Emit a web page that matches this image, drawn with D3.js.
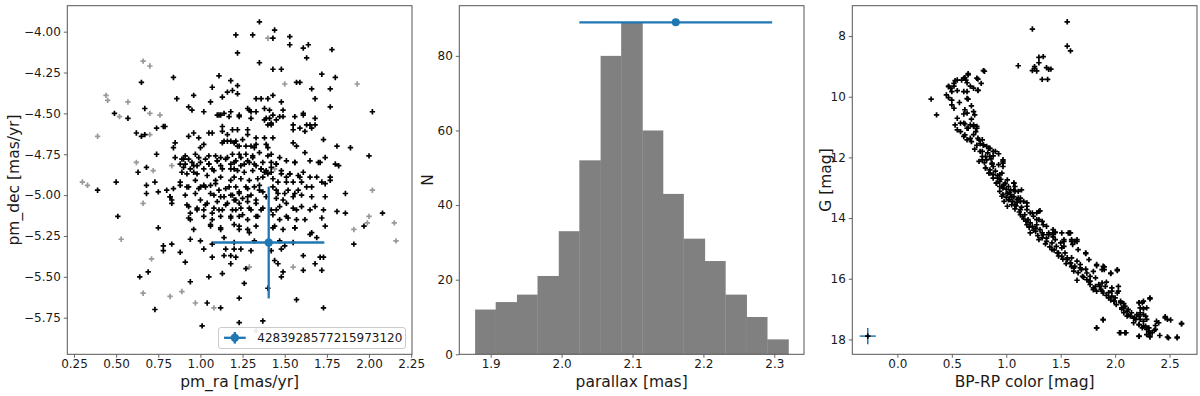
<!DOCTYPE html>
<html><head><meta charset="utf-8">
<script src="https://cdn.jsdelivr.net/npm/d3@7"></script>
<style>body{margin:0;background:#fff;} svg{display:block;font-family:"DejaVu Sans",sans-serif;}</style>
</head><body><svg id="c" width="1200" height="396"></svg>
<script>
// ---------------- DATA ----------------
// Panel 1: proper motions (pm_ra, pm_dec) in mas/yr
const nonMemberPM = [[0.30,-4.92],[0.33,-4.94],[0.39,-4.64],[0.44,-4.39],[0.45,-4.42],[0.52,-4.52],[0.57,-4.43],[0.62,-4.80],[0.66,-5.05],[0.66,-4.18],[0.70,-4.21],[0.70,-4.50],[0.70,-4.63],[0.72,-4.85],[0.76,-4.51],[0.71,-5.39],[0.66,-5.60],[0.83,-4.82],[0.82,-5.62],[0.89,-5.59],[0.97,-5.66],[1.08,-5.69],[1.29,-5.44],[1.33,-5.83],[1.40,-4.04],[1.44,-4.84],[1.50,-4.32],[1.55,-5.44],[1.93,-4.32],[2.02,-4.97],[2.00,-5.13],[1.99,-5.17],[1.91,-5.21],[2.15,-5.17],[2.16,-5.28],[0.53,-5.27]];
const memberPM = [[1.35,-3.94],[1.44,-3.99],[1.21,-4.02],[1.31,-4.02],[1.43,-4.04],[1.53,-4.03],[1.53,-4.08],[1.22,-4.13],[1.61,-4.10],[1.64,-4.08],[1.78,-4.11],[1.63,-4.16],[1.35,-4.19],
[1.43,-4.23],[1.48,-4.23],[1.72,-4.26],[1.80,-4.28],[1.11,-4.27],[1.18,-4.30],[0.84,-4.28],[0.65,-4.31],[1.57,-4.31],[1.59,-4.31],[1.77,-4.35],[1.66,-4.35],[1.22,-4.33],[1.16,-4.37],[1.19,-4.36],[1.13,-4.40],[0.96,-4.39],[1.06,-4.43],[0.86,-4.41],[1.68,-4.41],[1.07,-4.34],[1.22,-4.38],
[1.77,-4.46],[2.02,-4.49],[1.33,-4.41],[1.36,-4.41],[1.40,-4.41],[1.43,-4.39],[1.48,-4.43],[1.28,-4.47],[1.38,-4.47],[1.41,-4.48],[1.43,-4.51],[1.49,-4.48],[1.47,-4.52],[1.56,-4.52],[1.61,-4.51],[1.68,-4.53],[1.65,-4.57],[1.11,-4.51],[1.12,-4.51],[0.93,-4.46],[0.95,-4.48],[0.67,-4.47],[1.02,-4.49],[1.18,-4.49],[1.17,-4.52],[1.23,-4.52],[1.30,-4.53],[1.29,-4.48],[1.33,-4.49],[1.39,-4.53],[1.40,-4.57],[1.42,-4.57],[1.45,-4.54],[0.49,-4.50],[0.57,-4.53],[0.62,-4.62],[0.74,-4.59],[0.78,-4.58],[0.79,-4.58],[0.65,-4.64],[1.13,-4.58],[1.19,-4.60],[1.22,-4.60],[1.28,-4.60],[1.55,-4.60],[1.59,-4.59],[1.62,-4.61],[1.66,-4.59],[1.68,-4.57],[1.38,-4.54],
[1.10,-4.51],[1.14,-4.50],[1.23,-4.51],[1.30,-4.49],[1.41,-4.53],[1.42,-4.56],[1.49,-4.52],[1.61,-4.50],[1.63,-4.57],[1.55,-4.57],[0.67,-4.63],[0.96,-4.62],[1.07,-4.62],[1.14,-4.67],[1.16,-4.67],[1.21,-4.67],[1.23,-4.70],
[0.93,-4.64],[0.99,-4.65],[1.05,-4.62],[1.13,-4.61],[1.16,-4.63],[1.18,-4.67],[1.13,-4.68],[1.02,-4.69],[1.00,-4.71],[0.85,-4.68],[0.84,-4.71],[0.74,-4.75],[0.91,-4.76],[0.93,-4.78],[0.97,-4.75],[0.99,-4.77],[1.05,-4.76],[1.09,-4.76],[1.12,-4.77],[1.16,-4.77],[1.20,-4.68],[1.22,-4.70],[1.25,-4.66],[1.27,-4.70],[1.30,-4.70],[1.32,-4.71],[1.33,-4.69],[1.28,-4.63],[1.33,-4.65],[1.38,-4.65],[1.43,-4.65],[1.39,-4.69],[1.40,-4.71],[1.55,-4.68],[1.57,-4.70],[1.62,-4.74],[1.73,-4.66],[1.81,-4.70],[1.89,-4.71],[2.00,-4.76],[1.74,-4.77],[1.71,-4.80],[1.80,-4.81],[1.82,-4.82],[1.19,-4.75],[1.23,-4.75],[1.27,-4.75],[1.31,-4.76],[1.35,-4.74],[1.40,-4.76],[1.42,-4.75],[1.47,-4.77],[1.51,-4.79],[1.56,-4.80],[1.20,-4.80],[1.24,-4.82],[1.28,-4.79],[1.32,-4.81],[1.37,-4.80],[1.42,-4.80],[1.45,-4.81],[1.10,-4.79],[1.05,-4.81],[1.00,-4.80],[0.95,-4.80],[0.90,-4.78],[0.88,-4.81],[0.68,-4.83],[0.63,-4.86],[0.90,-4.83],[0.96,-4.82],
[0.85,-4.77],[0.89,-4.78],[0.91,-4.81],[0.94,-4.84],[0.96,-4.86],[0.98,-4.82],[1.03,-4.78],[1.05,-4.81],[1.07,-4.84],[1.10,-4.79],[1.12,-4.82],[1.15,-4.78],[1.18,-4.81],[1.20,-4.84],[1.21,-4.79],[1.24,-4.77],[1.26,-4.81],[1.29,-4.80],[1.31,-4.77],[1.33,-4.82],[1.36,-4.84],[1.38,-4.86],[1.40,-4.87],[1.42,-4.83],[1.45,-4.81],[1.48,-4.85],[1.51,-4.89],[1.53,-4.87],[1.56,-4.80],[1.59,-4.89],[1.61,-4.86],[1.65,-4.79],[1.70,-4.80],
[1.02,-4.84],[1.08,-4.85],[1.13,-4.84],[1.18,-4.84],[1.22,-4.85],[1.26,-4.86],[1.31,-4.85],[1.36,-4.84],[1.39,-4.85],[1.42,-4.86],[1.48,-4.87],[1.53,-4.87],[1.58,-4.88],[1.65,-4.89],[1.69,-4.89],[1.77,-4.89],[1.77,-4.91],[1.74,-4.93],[0.89,-4.86],[0.92,-4.87],[0.98,-4.87],[1.04,-4.88],[1.12,-4.89],[1.09,-4.91],[1.18,-4.91],[1.20,-4.89],[1.24,-4.90],[1.29,-4.91],[1.34,-4.90],[1.37,-4.89],[1.43,-4.90],[1.46,-4.92],[1.51,-4.92],[1.55,-4.92],[1.60,-4.92],[1.63,-4.95],[0.68,-4.94],[0.73,-4.92],[0.50,-4.92],[0.39,-4.97],[0.80,-4.97],[0.84,-4.96],[0.88,-4.94],[0.93,-4.95],[1.00,-4.95],[1.03,-4.95],[1.06,-4.94],[1.15,-4.96],[1.21,-4.95],[1.27,-4.95],[1.32,-4.95],[1.35,-4.97],[1.45,-4.97],[1.50,-4.99],[1.56,-4.99],[1.60,-5.00],[1.66,-5.01],[1.74,-5.01],[1.86,-4.99],[0.68,-4.99],[0.75,-4.98],[0.82,-5.01],[0.91,-5.00],[0.97,-4.99],[1.08,-5.00],[1.12,-5.01],[1.18,-5.00],[1.23,-4.99],[1.28,-5.01],[1.39,-5.01],[1.45,-5.02],
[0.88,-4.92],[0.92,-4.95],[0.97,-4.91],[0.99,-4.96],[1.02,-4.94],[1.06,-4.99],[1.09,-4.93],[1.11,-4.97],[1.14,-5.01],[1.17,-4.95],[1.19,-5.00],[1.21,-5.03],[1.23,-4.98],[1.25,-5.02],[1.28,-4.96],[1.30,-5.00],[1.33,-5.03],[1.35,-4.94],[1.37,-4.98],[1.43,-4.95],[1.46,-4.99],[1.49,-5.03],[1.52,-4.97],[1.55,-5.01],[1.58,-4.97],[1.66,-4.95],[1.72,-4.92],
[1.00,-5.03],[1.04,-5.05],[1.10,-5.04],[1.16,-5.05],[1.20,-5.03],[1.23,-5.05],[1.28,-5.04],[1.33,-5.05],[0.83,-5.03],[0.92,-5.06],[0.98,-5.08],[1.02,-5.09],[1.08,-5.08],[1.13,-5.09],[1.19,-5.09],[1.24,-5.08],[1.30,-5.09],[1.37,-5.08],[1.42,-5.09],[1.47,-5.07],[1.51,-5.05],[1.55,-5.08],[1.60,-5.07],[1.65,-5.09],[1.73,-5.09],[1.81,-5.10],[1.86,-5.11],[2.08,-5.11],[0.51,-5.13],[0.94,-5.11],[1.02,-5.13],[1.07,-5.15],[1.12,-5.13],[1.18,-5.14],[1.23,-5.13],[1.28,-5.15],[1.34,-5.13],[1.43,-5.12],[1.47,-5.15],[1.52,-5.14],[1.57,-5.15],[1.72,-5.14],[1.74,-5.19],[0.96,-5.21],[1.06,-5.19],[1.12,-5.21],[1.20,-5.18],[1.23,-5.21],[1.28,-5.21],[1.33,-5.19],[1.44,-5.19],[1.49,-5.21],[1.56,-5.20],[1.97,-5.19],[0.75,-5.20],[0.93,-5.14],
[0.82,-5.01],[0.83,-5.05],[0.93,-5.07],[0.98,-5.09],[1.03,-5.06],[1.07,-5.11],[1.11,-5.09],[1.15,-5.06],[1.18,-5.13],[1.21,-5.09],[1.25,-5.12],[1.29,-5.08],[1.33,-5.13],[1.36,-5.09],[1.45,-5.09],[1.51,-5.13],[1.57,-5.09],[1.62,-5.15],[1.68,-5.07],[0.94,-5.15],[1.06,-5.18],[1.12,-5.20],[1.23,-5.19],[1.29,-5.23],[1.43,-5.20],[1.56,-5.20],[1.66,-5.23],
[0.94,-5.27],[1.00,-5.28],[1.07,-5.30],[1.14,-5.26],[1.20,-5.29],[1.32,-5.28],[1.47,-5.28],[1.50,-5.31],[1.55,-5.29],[1.65,-5.24],[1.69,-5.26],[1.91,-5.30],[0.78,-5.31],[0.78,-5.34],[0.83,-5.30],[0.88,-5.35],[0.91,-5.41],[1.02,-5.33],[1.07,-5.38],[1.15,-5.33],[1.20,-5.33],[1.24,-5.33],[1.30,-5.34],[1.42,-5.34],[1.44,-5.40],[1.46,-5.42],[1.48,-5.33],[1.14,-5.37],[1.18,-5.37],[1.21,-5.38],[1.61,-5.37],[1.71,-5.38],[1.73,-5.38],[1.68,-5.42],[1.18,-5.42],[1.27,-5.45],
[0.64,-5.50],[0.69,-5.47],[0.94,-5.53],[1.05,-5.50],[1.13,-5.48],[1.26,-5.54],[1.48,-5.50],[1.49,-5.47],[1.61,-5.46],[1.72,-5.46],[1.40,-5.57],[1.23,-5.63],[1.57,-5.64],[1.04,-5.66],[1.12,-5.69],[0.73,-5.70],[1.73,-5.69],[1.23,-5.78],[1.37,-5.77],[1.01,-5.80]];
const targetPM = [1.405, -5.29];      // pm_ra, pm_dec of the target
const targetPMErr = [0.33, 0.342];    // errors
const targetLabel = "4283928577215973120";

// Panel 2: parallax histogram
const parallaxBinEdges = [1.878,1.907,1.937,1.966,1.996,2.025,2.055,2.084,2.114,2.143,2.172,2.202,2.231,2.261,2.290,2.320];
const parallaxCounts = [12,14,16,21,33,52,80,89,60,43,31,25,16,10,4];
const targetParallax = [2.161, 89];   // value, drawn at height
const targetParallaxErr = 0.136;

// Panel 3: colour-magnitude diagram (BP-RP, G)
const cmdStars = [[1.56,7.53],[1.24,7.77],[1.56,8.33],[1.59,8.49],[1.11,8.98],[1.30,8.70],[1.34,8.68],[1.30,8.88],[1.26,9.01],[1.24,9.14],[1.28,9.15],[1.26,9.07],[1.37,9.04],[1.41,9.09],[1.39,9.10],[1.33,9.43],[1.38,9.43],
[0.80,9.16],[0.65,9.24],[0.74,9.42],[0.77,9.56],[0.74,9.80],[0.62,9.37],[0.59,9.45],[0.53,9.47],[0.64,9.54],[0.67,9.65],[0.52,9.65],[0.47,9.65],[0.49,9.72],[0.55,9.80],[0.50,9.83],[0.61,9.83],[0.64,10.06],[0.65,10.08],[0.45,9.94],[0.47,10.03],[0.50,10.11],[0.31,10.08],[0.36,10.60],[0.50,10.27],[0.52,10.38],[0.57,10.19],[0.62,10.43],[0.64,10.54],[0.70,10.49],[0.68,10.30],[0.71,10.60],[0.61,10.57],[0.55,10.71],[0.68,10.74],[0.58,10.87],[0.62,10.90],[0.67,10.93],[0.73,10.98],[0.53,10.93],
[0.47,9.67],[0.52,9.56],[0.55,9.45],[0.61,9.39],[0.63,9.45],[0.65,9.28],[0.73,9.39],[0.79,9.14],[0.70,9.72],[0.74,9.78],[0.64,9.83],
[0.55,11.09],[0.58,11.15],[0.64,11.04],[0.70,10.98],[0.73,11.04],[0.61,11.31],[0.64,11.42],[0.68,11.48],[0.74,11.37],[0.78,11.42],[0.79,11.59],[0.71,11.73],[0.78,11.80],[0.82,11.64],[0.85,11.70],[0.90,11.80],[0.78,11.97],[0.82,12.08],[0.75,12.13],[0.80,12.17],[0.88,11.95],[0.93,11.88],[0.97,12.08],[0.97,12.19],[0.87,12.22],
[0.81,12.35],[0.85,12.41],[0.88,12.57],[0.84,12.52],[0.92,12.68],[0.94,12.79],[0.99,12.85],[0.91,12.85],[0.97,13.01],[1.02,12.96],[1.07,12.85],[1.08,12.96],[0.94,13.12],[1.01,13.18],[1.04,13.23],[1.00,13.31],[1.07,13.29],[1.11,13.12],[0.96,13.28],[1.03,13.39],[0.98,13.45],[1.10,13.39],[1.13,13.45],[1.05,13.56],[1.01,13.61],[1.08,13.70],[1.14,13.64],[1.19,13.50],[1.19,13.72],[1.31,13.76],[1.22,13.83],[1.25,13.94],[1.13,13.89],[1.16,14.03],[1.20,14.05],[1.28,13.83],[1.30,14.05],
[1.19,14.22],[1.24,14.27],[1.27,14.44],[1.31,14.38],[1.22,14.49],[1.34,14.55],[1.37,14.66],[1.30,14.71],[1.39,14.49],[1.45,14.47],[1.42,14.82],[1.46,14.93],[1.51,14.98],[1.48,15.15],[1.54,15.15],[1.58,14.49],[1.53,14.71],[1.60,14.71],[1.61,14.87],[1.65,14.71],[1.73,15.17],[1.56,15.31],[1.60,15.31],[1.59,15.48],[1.65,15.42],[1.68,15.53],[1.62,15.64],[1.69,15.70],[1.73,15.68],
[1.74,15.81],[1.77,15.92],[1.82,15.97],[1.77,16.08],[1.83,15.57],[1.89,15.59],[1.90,15.70],[1.96,15.83],[2.02,15.70],[1.85,16.19],[1.88,16.14],[1.91,16.25],[1.80,16.36],[1.88,16.41],[1.94,16.46],[1.97,16.57],[2.00,16.63],[2.03,16.41],[1.99,16.74],[2.05,16.74],[2.08,16.82],[2.09,16.90],[2.06,16.96],[2.12,17.01],[2.15,17.12],[2.20,17.18],[2.22,16.79],[2.26,16.74],[2.32,16.63],[2.18,17.29],[2.23,17.34],[2.26,17.40],[2.22,17.51],[2.28,17.56],[2.31,17.62],[2.25,17.62],[2.31,17.73],[2.34,17.78],[2.32,17.89],[2.29,17.84],[2.37,17.67],[2.40,17.45],[2.46,17.29],[2.48,17.34],[2.49,17.95],[2.57,17.95],[2.61,17.47],[2.22,17.90],[2.05,17.78],[2.09,17.78],[1.89,17.36],[1.83,17.62],[2.08,17.12],[2.23,17.12],[2.29,16.96],[2.26,17.18],[2.11,17.23],[1.97,16.30],[2.03,16.25],[1.80,15.76],[1.76,15.37],[1.66,15.04],[1.51,14.49],[1.43,14.38],[1.37,14.27],[1.43,14.62],[1.33,14.11],[1.28,14.22],[1.10,13.48],[1.07,13.07],[1.13,13.34],[0.96,12.52],[0.93,12.24],[0.88,12.30],[0.85,11.97],[0.94,12.96],
[0.61,10.87],[0.65,11.04],[0.70,10.93],[0.62,11.26],[0.67,11.37],[0.75,11.42],[0.79,11.59],[0.84,11.70],[0.76,11.80],[0.81,11.97],[0.88,11.80],[0.78,12.08],[0.87,12.19],[0.97,12.13],[0.97,12.30],[0.81,12.35],[0.85,12.52],[0.88,12.68],[0.94,12.57],[0.91,12.85],[0.96,12.96],[1.01,12.74],[1.07,12.85],[1.04,13.07],[0.97,13.23],[1.02,13.40],[1.08,13.12],[1.14,13.07],[1.11,13.34],[1.08,13.56],[1.16,13.45],[1.19,13.61],[1.13,13.72],[1.17,13.89],[1.24,13.83],[1.30,13.78],[1.28,14.05],[1.22,14.16],[1.27,14.33],[1.34,14.22],[1.33,14.49],[1.39,14.55],[1.43,14.49],[1.37,14.77],[1.45,14.71],[1.50,14.82],[1.59,14.49],[1.63,14.77],[1.53,14.93],
[1.43,14.55],[1.45,14.47],[1.57,14.49],[1.60,14.77],[1.65,14.77],[1.53,14.77],[1.42,15.04],[1.47,15.15],[1.51,15.26],[1.56,15.37],[1.59,15.48],[1.63,15.59],[1.68,15.64],[1.62,15.75],[1.73,15.15],[1.83,15.53],[1.88,15.70],[1.90,15.61],[1.96,15.81],[2.02,15.73],[1.65,16.05],[1.70,15.92],[1.74,16.03],[1.77,16.19],[1.80,16.30],[1.83,16.41],[1.86,16.25],[1.89,16.47],[1.92,16.11],[1.97,16.41],[2.02,16.47],[1.94,16.63],[1.99,16.74],[2.05,16.79],[2.08,16.96],[2.11,17.07],[2.14,17.23],[2.19,17.34],[2.22,17.51],[2.26,17.56],[2.29,17.67],[2.32,17.78],[2.22,16.79],[2.25,16.79],[2.23,16.96],[2.26,16.99],[2.32,16.66],[2.28,17.23],[2.29,17.34],[2.22,17.23],[2.17,17.45],[2.38,17.40],[2.46,17.25],[2.51,17.36],[2.61,17.49],[1.89,17.34],[1.83,17.62],[2.04,17.78],[2.10,17.78],[2.22,17.89],[2.32,17.92],[2.41,17.87],[2.48,17.92],[2.57,17.92],[2.37,17.54],[2.36,17.70],
[0.90,12.45],[0.92,12.60],[0.95,12.72],[0.98,12.90],[1.00,13.05],[1.03,13.15],[1.05,13.30],[1.06,13.45],[1.09,13.60],[1.12,13.80],[1.15,13.95],[1.18,14.10],[1.21,14.30],[1.25,14.40],[1.29,14.58],[1.33,14.65],[1.36,14.85],[1.40,14.95],[1.44,15.05],[1.48,15.25],[1.52,15.35],[1.55,15.50],[1.60,15.60],[1.66,15.80],[1.71,15.95],[1.76,16.10],[1.82,16.25],[1.87,16.35],[1.92,16.55],[1.96,16.70],[2.01,16.85],[2.06,17.00],[2.12,17.20],[2.17,17.30],[0.72,11.15],[0.70,11.25],[0.76,11.55],[0.73,11.60],[0.83,11.85],[0.86,12.05]];
const cmdTarget = [-0.272, 17.89];
const cmdTargetErr = [0.074, 0.27];

// Tick values
const p1xTicks = [0.25,0.50,0.75,1.00,1.25,1.50,1.75,2.00,2.25];
const p1yTicks = [-4.00,-4.25,-4.50,-4.75,-5.00,-5.25,-5.50,-5.75];
const p2xTicks = [1.9,2.0,2.1,2.2,2.3];
const p2yTicks = [0,20,40,60,80];
const p3xTicks = [0.0,0.5,1.0,1.5,2.0,2.5];
const p3yTicks = [8,10,12,14,16,18];

// ---------------- DRAWING ----------------
const svg = d3.select("#c");
const plotTop = 5.7, plotBottom = 354.3;
const BLUE = "#1f77b4", FRAME = "#555555", TXT = "#1a1a1a";
const FONT = "DejaVu Sans";

const p1x = d3.scaleLinear().domain([0.2103, 2.255]).range([67.3, 412]);
const p1y = d3.scaleLinear().domain([-3.841, -5.974]).range([plotTop, plotBottom]);
const p2x = d3.scaleLinear().domain([1.8557, 2.3419]).range([459.3, 804]);
const p2y = d3.scaleLinear().domain([0, 93.45]).range([plotBottom, plotTop]);
const p3x = d3.scaleLinear().domain([-0.414, 2.752]).range([852.3, 1197]);
const p3y = d3.scaleLinear().domain([7.0, 18.49]).range([plotTop, plotBottom]);

const plusPath = "M-2.7,0H2.7M0,-2.7V2.7";

function drawAxes(xs, ys, xt, yt, xfmt, yfmt, xlabel, ylabel, ylabelX) {
  const [l, r] = xs.range();
  const g = svg.append("g");
  const xa = g.append("g").attr("transform", `translate(0,${plotBottom})`)
    .call(d3.axisBottom(xs).tickValues(xt).tickFormat(d3.format(xfmt)).tickSizeInner(3.5).tickSizeOuter(0).tickPadding(2));
  const ya = g.append("g").attr("transform", `translate(${l},0)`)
    .call(d3.axisLeft(ys).tickValues(yt).tickFormat(d3.format(yfmt)).tickSizeInner(3.5).tickSizeOuter(0).tickPadding(3));
  [xa, ya].forEach(a => {
    a.select(".domain").remove();
    a.attr("font-family", FONT).attr("font-size", 12);
    a.selectAll("line").attr("stroke", FRAME).attr("stroke-width", 0.9);
    a.selectAll("text").attr("fill", TXT);
  });
  g.append("rect").attr("x", l).attr("y", plotTop).attr("width", r - l).attr("height", plotBottom - plotTop)
    .attr("fill", "none").attr("stroke", FRAME).attr("stroke-width", 1);
  g.append("text").attr("x", (l + r) / 2).attr("y", 387).attr("text-anchor", "middle")
    .attr("font-family", FONT).attr("font-size", 15.5).attr("fill", TXT).text(xlabel);
  g.append("text").attr("transform", `translate(${ylabelX},${(plotTop + plotBottom) / 2}) rotate(-90)`)
    .attr("text-anchor", "middle").attr("font-family", FONT).attr("font-size", 15.5).attr("fill", TXT).text(ylabel);
}

// ---- Panel 1 ----
const g1 = svg.append("g");
g1.selectAll("path.non").data(nonMemberPM).join("path").attr("class", "non")
  .attr("d", plusPath).attr("transform", d => `translate(${p1x(d[0])},${p1y(d[1])})`)
  .attr("stroke", "#999").attr("stroke-width", 1.7).attr("fill", "none");
g1.selectAll("path.mem").data(memberPM).join("path").attr("class", "mem")
  .attr("d", plusPath).attr("transform", d => `translate(${p1x(d[0])},${p1y(d[1])})`)
  .attr("stroke", "#000").attr("stroke-width", 1.7).attr("fill", "none");
// target errorbar
g1.append("line").attr("x1", p1x(targetPM[0] - targetPMErr[0])).attr("x2", p1x(targetPM[0] + targetPMErr[0]))
  .attr("y1", p1y(targetPM[1])).attr("y2", p1y(targetPM[1])).attr("stroke", BLUE).attr("stroke-width", 2.3);
g1.append("line").attr("x1", p1x(targetPM[0])).attr("x2", p1x(targetPM[0]))
  .attr("y1", p1y(targetPM[1] + targetPMErr[1])).attr("y2", p1y(targetPM[1] - targetPMErr[1])).attr("stroke", BLUE).attr("stroke-width", 2.3);
g1.append("circle").attr("cx", p1x(targetPM[0])).attr("cy", p1y(targetPM[1])).attr("r", 4.2).attr("fill", BLUE);
drawAxes(p1x, p1y, p1xTicks, p1yTicks, ".2f", ".2f", "pm_ra [mas/yr]", "pm_dec [mas/yr]", 19);
// legend
const lg = svg.append("g");
lg.append("rect").attr("x", 218.5).attr("y", 327.5).attr("width", 187).attr("height", 21).attr("rx", 2.5)
  .attr("fill", "#fff").attr("fill-opacity", 0.8).attr("stroke", "#cccccc").attr("stroke-width", 1);
lg.append("line").attr("x1", 224).attr("x2", 245.7).attr("y1", 337.8).attr("y2", 337.8).attr("stroke", BLUE).attr("stroke-width", 2.3);
lg.append("line").attr("x1", 234.8).attr("x2", 234.8).attr("y1", 332).attr("y2", 343.6).attr("stroke", BLUE).attr("stroke-width", 2.3);
lg.append("circle").attr("cx", 234.8).attr("cy", 337.8).attr("r", 4.2).attr("fill", BLUE);
lg.append("text").attr("x", 257.3).attr("y", 342.3).attr("font-family", FONT).attr("font-size", 12).attr("fill", TXT).text(targetLabel);

// ---- Panel 2 ----
const g2 = svg.append("g");
const bins = parallaxCounts.map((c, i) => ({x0: parallaxBinEdges[i], x1: parallaxBinEdges[i + 1], n: c}));
g2.selectAll("rect.bar").data(bins).join("rect").attr("class", "bar")
  .attr("x", d => p2x(d.x0)).attr("width", d => p2x(d.x1) - p2x(d.x0) + 0.3)
  .attr("y", d => p2y(d.n)).attr("height", d => p2y(0) - p2y(d.n)).attr("fill", "#808080");
g2.append("line").attr("x1", p2x(targetParallax[0] - targetParallaxErr)).attr("x2", p2x(targetParallax[0] + targetParallaxErr))
  .attr("y1", p2y(targetParallax[1])).attr("y2", p2y(targetParallax[1])).attr("stroke", BLUE).attr("stroke-width", 2.3);
g2.append("circle").attr("cx", p2x(targetParallax[0])).attr("cy", p2y(targetParallax[1])).attr("r", 4).attr("fill", BLUE);
drawAxes(p2x, p2y, p2xTicks, p2yTicks, ".1f", "d", "parallax [mas]", "N", 433);

// ---- Panel 3 ----
const g3 = svg.append("g");
g3.append("line").attr("x1", p3x(cmdTarget[0] - cmdTargetErr[0])).attr("x2", p3x(cmdTarget[0] + cmdTargetErr[0]))
  .attr("y1", p3y(cmdTarget[1])).attr("y2", p3y(cmdTarget[1])).attr("stroke", BLUE).attr("stroke-width", 1.5);
g3.append("line").attr("x1", p3x(cmdTarget[0])).attr("x2", p3x(cmdTarget[0]))
  .attr("y1", p3y(cmdTarget[1] - cmdTargetErr[1])).attr("y2", p3y(cmdTarget[1] + cmdTargetErr[1])).attr("stroke", BLUE).attr("stroke-width", 1.5);
g3.selectAll("path.cmd").data(cmdStars.concat([cmdTarget])).join("path").attr("class", "cmd")
  .attr("d", plusPath).attr("transform", d => `translate(${p3x(d[0])},${p3y(d[1])})`)
  .attr("stroke", "#000").attr("stroke-width", 1.7).attr("fill", "none");
drawAxes(p3x, p3y, p3xTicks, p3yTicks, ".1f", "d", "BP-RP color [mag]", "G [mag]", 831);
</script></body></html>
